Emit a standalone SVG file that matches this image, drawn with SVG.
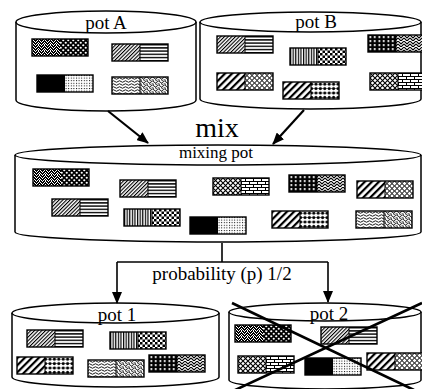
<svg xmlns="http://www.w3.org/2000/svg" xmlns:xlink="http://www.w3.org/1999/xlink" width="422" height="389" viewBox="0 0 422 389">
<style>
.pot{fill:#fff;stroke:#000;stroke-width:1.5}
.lbl{font-family:"Liberation Serif","Times New Roman",serif;fill:#000;text-anchor:middle}
.conn{fill:none;stroke:#000;stroke-width:1.6}
.arr{fill:none;stroke:#000;stroke-width:2.2}
.cb{fill:none;stroke:#000;stroke-width:1.4}
</style>
<defs>
<marker id="ah" markerUnits="userSpaceOnUse" markerWidth="12" markerHeight="10" refX="11" refY="5" orient="auto"><path d="M0,0 L12,5 L0,10 Z" fill="#000"/></marker>
<pattern id="stip" width="6" height="6" patternUnits="userSpaceOnUse"><rect width="6" height="6" fill="#000"/><path d="M0,0h1v1h-1zM3,0h1v1h-1zM5,1h1v1h-1zM1,1h1v1h-1zM2,2h1v1h-1zM4,2h1v1h-1zM0,3h1v1h-1zM3,3h1v1h-1zM5,4h1v1h-1zM1,4h1v1h-1zM2,5h1v1h-1zM4,5h1v1h-1zM0,5h1v1h-1z" fill="#fff"/></pattern>
<pattern id="wdots" width="5" height="5" patternUnits="userSpaceOnUse"><rect width="5" height="5" fill="#000"/><circle cx="1.25" cy="1.25" r="1.1" fill="#fff"/><circle cx="3.75" cy="3.75" r="1.1" fill="#fff"/></pattern>
<pattern id="fdiag" width="2.6" height="2.6" patternUnits="userSpaceOnUse" patternTransform="rotate(45)"><rect width="2.6" height="2.6" fill="#fff"/><rect width="1.1" height="2.6" fill="#000"/></pattern>
<pattern id="hl" width="4" height="3.2" patternUnits="userSpaceOnUse"><rect width="4" height="3.2" fill="#fff"/><rect y="0" width="4" height="1.4" fill="#000"/></pattern>
<pattern id="vl" width="2.6" height="4" patternUnits="userSpaceOnUse"><rect width="2.6" height="4" fill="#fff"/><rect width="1.2" height="4" fill="#000"/></pattern>
<pattern id="chk" width="5" height="5" patternUnits="userSpaceOnUse"><rect width="5" height="5" fill="#fff"/><rect width="2.5" height="2.5" fill="#000"/><rect x="2.5" y="2.5" width="2.5" height="2.5" fill="#000"/></pattern>
<pattern id="fgrid" width="2.6" height="2.6" patternUnits="userSpaceOnUse"><rect width="2.6" height="2.6" fill="#fff"/><rect width="1" height="1" fill="#000"/></pattern>
<pattern id="bgrid" width="4.5" height="4" patternUnits="userSpaceOnUse"><rect width="4.5" height="4" fill="#000"/><rect x="1.5" y="1" width="1.6" height="2.2" fill="#fff"/></pattern>
<pattern id="weave" width="6" height="6" patternUnits="userSpaceOnUse"><rect width="6" height="6" fill="#fff"/><path d="M0,0 L3,3 L6,0 M0,3 L3,6 L6,3" stroke="#000" stroke-width="1.1" fill="none"/></pattern>
<pattern id="tdiag" width="5" height="5" patternUnits="userSpaceOnUse" patternTransform="rotate(45)"><rect width="5" height="5" fill="#fff"/><rect width="2.2" height="5" fill="#000"/></pattern>
<pattern id="circ" width="5" height="5" patternUnits="userSpaceOnUse"><rect width="5" height="5" fill="#fff"/><circle cx="2.5" cy="2.5" r="2" fill="none" stroke="#000" stroke-width="0.9"/></pattern>
<pattern id="bdots" width="4.4" height="4.4" patternUnits="userSpaceOnUse"><rect width="4.4" height="4.4" fill="#fff"/><rect y="2" width="4.4" height="0.5" fill="#000"/><circle cx="2.2" cy="2.2" r="1.5" fill="#000"/></pattern>
<pattern id="xh" width="5" height="5" patternUnits="userSpaceOnUse"><rect width="5" height="5" fill="#fff"/><path d="M0,0 L5,5 M5,0 L0,5" stroke="#000" stroke-width="1.1"/></pattern>
<pattern id="brick" width="8" height="6" patternUnits="userSpaceOnUse"><rect width="8" height="6" fill="#fff"/><path d="M0,0.5H8M0,3.5H8M0.5,0.5V3.5M4.5,3.5V6" stroke="#000" stroke-width="1"/></pattern>
<pattern id="wavy" width="6" height="3" patternUnits="userSpaceOnUse"><rect width="6" height="3" fill="#fff"/><path d="M0,1.5 Q1.5,0 3,1.5 T6,1.5" stroke="#000" stroke-width="0.9" fill="none"/></pattern>
<pattern id="mesh" width="6" height="4" patternUnits="userSpaceOnUse"><rect width="6" height="4" fill="#fff"/><path d="M0,1 Q1.5,3 3,1 T6,1 M1,2.5 Q2,4 3.5,3 M4,2.5 Q5,4 6,3" stroke="#000" stroke-width="0.9" fill="none"/></pattern>

<g id="T1"><rect width="28" height="17" fill="url(#stip)"/><rect x="28" width="28" height="17" fill="url(#wdots)"/><rect width="56" height="17" class="cb"/></g>
<g id="T2"><rect width="28" height="17" fill="url(#fdiag)"/><rect x="28" width="28" height="17" fill="url(#hl)"/><rect width="56" height="17" class="cb"/><line x1="28" y1="0" x2="28" y2="17" stroke="#000"/></g>
<g id="T3"><rect width="28" height="17" fill="#000"/><rect x="28" width="28" height="17" fill="url(#fgrid)"/><rect width="56" height="17" class="cb"/></g>
<g id="T4"><rect width="28" height="17" fill="url(#wavy)"/><rect x="28" width="28" height="17" fill="url(#mesh)"/><rect width="56" height="17" class="cb"/><line x1="28" y1="0" x2="28" y2="17" stroke="#000"/></g>
<g id="T5"><rect width="28" height="17" fill="url(#vl)"/><rect x="28" width="28" height="17" fill="url(#chk)"/><rect width="56" height="17" class="cb"/><line x1="28" y1="0" x2="28" y2="17" stroke="#000"/></g>
<g id="T6"><rect width="28" height="17" fill="url(#bgrid)"/><rect x="28" width="28" height="17" fill="url(#weave)"/><rect width="56" height="17" class="cb"/><line x1="28" y1="0" x2="28" y2="17" stroke="#000"/></g>
<g id="T7"><rect width="28" height="17" fill="url(#tdiag)"/><rect x="28" width="28" height="17" fill="url(#circ)"/><rect width="56" height="17" class="cb"/><line x1="28" y1="0" x2="28" y2="17" stroke="#000"/></g>
<g id="T8"><rect width="28" height="17" fill="url(#tdiag)"/><rect x="28" width="28" height="17" fill="url(#bdots)"/><rect width="56" height="17" class="cb"/><line x1="28" y1="0" x2="28" y2="17" stroke="#000"/></g>
<g id="T9"><rect width="28" height="17" fill="url(#xh)"/><rect x="28" width="28" height="17" fill="url(#brick)"/><rect width="56" height="17" class="cb"/><line x1="28" y1="0" x2="28" y2="17" stroke="#000"/></g>
</defs>

<rect width="422" height="389" fill="#fff"/>

<g id="potA">
<path class="pot" d="M16,22 L16,100 A90,11 0 0 0 196,100 L196,22"/>
<ellipse class="pot" cx="106" cy="22" rx="90" ry="11"/>
<text class="lbl" x="106" y="29" font-size="19">pot A</text>
<use xlink:href="#T1" x="32" y="39"/>
<use xlink:href="#T2" x="112" y="44"/>
<use xlink:href="#T3" x="37" y="75"/>
<use xlink:href="#T4" x="112" y="77"/>
</g>

<g id="potB">
<path class="pot" d="M200,22 L200,99 A110.5,10 0 0 0 421,99 L421,22"/>
<ellipse class="pot" cx="310.5" cy="22" rx="110.5" ry="10"/>
<text class="lbl" x="316" y="28" font-size="19">pot B</text>
<use xlink:href="#T2" x="217" y="36"/>
<use xlink:href="#T5" x="290" y="48"/>
<use xlink:href="#T6" x="368" y="35"/>
<use xlink:href="#T7" x="217" y="73"/>
<use xlink:href="#T8" x="283" y="82"/>
<use xlink:href="#T9" x="370" y="73"/>
</g>

<text id="mixLabel" class="lbl" x="217" y="137" font-size="28">mix</text>

<g id="mixingPot">
<path class="pot" d="M15,155 L15,232 A203,10 0 0 0 421,232 L421,155"/>
<ellipse class="pot" cx="218" cy="155" rx="203" ry="10"/>
<text class="lbl" x="216" y="158" font-size="17">mixing pot</text>
<use xlink:href="#T1" x="33" y="169"/>
<use xlink:href="#T2" x="120" y="180"/>
<use xlink:href="#T2" x="52" y="199"/>
<use xlink:href="#T5" x="124" y="209"/>
<use xlink:href="#T3" x="190" y="217"/>
<use xlink:href="#T9" x="213" y="178"/>
<use xlink:href="#T6" x="289" y="175"/>
<use xlink:href="#T7" x="357" y="181"/>
<use xlink:href="#T8" x="272" y="211"/>
<use xlink:href="#T4" x="356" y="211"/>
</g>

<text id="probLabel" class="lbl" x="222" y="280" font-size="19">probability (p) 1/2</text>

<g id="pot1">
<path class="pot" d="M12,313 L12,377 A103.5,10 0 0 0 219,377 L219,313"/>
<ellipse class="pot" cx="115.5" cy="313" rx="103.5" ry="10"/>
<text class="lbl" x="117" y="321" font-size="19">pot 1</text>
<use xlink:href="#T2" x="27" y="330"/>
<use xlink:href="#T5" x="110" y="332"/>
<use xlink:href="#T8" x="17" y="357"/>
<use xlink:href="#T4" x="88" y="360"/>
<use xlink:href="#T6" x="149" y="355"/>
</g>

<g id="pot2">
<path class="pot" d="M229,312 L229,380 A96,9 0 0 0 421,380 L421,312"/>
<ellipse class="pot" cx="325" cy="312" rx="96" ry="9"/>
<text class="lbl" x="329" y="320" font-size="19">pot 2</text>
<use xlink:href="#T1" x="235" y="325"/>
<use xlink:href="#T2" x="321" y="327"/>
<use xlink:href="#T9" x="238" y="356"/>
<use xlink:href="#T3" x="305" y="358"/>
<use xlink:href="#T7" x="367" y="353"/>
<path d="M232,303 L414,390 M422,303 L233,391" stroke="#000" stroke-width="2.6" fill="none"/>
</g>

<g id="connectors">
<line class="arr" x1="108" y1="111" x2="148" y2="143" marker-end="url(#ah)"/>
<line class="arr" x1="304" y1="110" x2="273" y2="144" marker-end="url(#ah)"/>
<path class="conn" d="M222,243 L222,262"/>
<path class="conn" d="M117,262 L328,262"/>
<line class="conn" x1="117" y1="262" x2="117" y2="303" marker-end="url(#ah)"/>
<line class="conn" x1="328" y1="262" x2="328" y2="302" marker-end="url(#ah)"/>
</g>
</svg>
